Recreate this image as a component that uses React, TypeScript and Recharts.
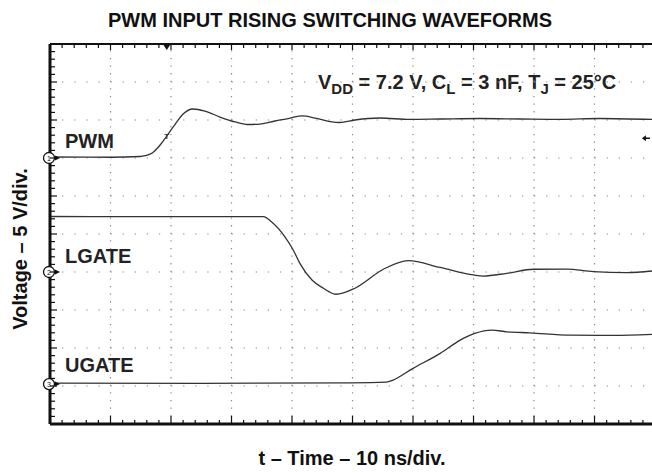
import { Line, LineChart, ReferenceDot, ReferenceLine, XAxis, YAxis } from "recharts";

// time in ns, voltage in V (relative to each channel's ground marker)
const pwmTime = [0, 10, 14.9, 15.7, 16.9, 18.2, 19.3, 20.7, 22.0, 23.6, 25.6, 28.1, 30.6, 32.6, 34.7, 37.2, 39.7, 41.7, 43.8, 46.3, 47.9, 50.4, 54.5, 59.5, 64.5, 71.1, 77.7, 84.3, 90.9, 99.5];
const pwmVolt = [0.13, 0.1, 0.2, 0.3, 0.66, 1.71, 2.89, 4.47, 5.79, 6.45, 6.18, 5.39, 4.74, 4.41, 4.47, 4.87, 5.26, 5.53, 5.26, 4.8, 4.67, 5.0, 5.26, 5.07, 5.13, 5.2, 5.13, 5.07, 5.2, 5.07];

const lgateTime = [0, 15, 33.1, 35.3, 36.6, 38.8, 40.2, 41.3, 43.3, 45.2, 47.3, 50.4, 55.1, 59.2, 64.5, 70.0, 71.6, 75.5, 79.9, 85.4, 89.8, 95.3, 99.5];
const lgateVolt = [7.3, 7.28, 7.28, 7.28, 6.6, 4.65, 2.9, 1.14, -1.05, -2.14, -2.93, -2.14, 0.36, 1.49, 0.6, -0.39, -0.53, -0.17, 0.36, 0.39, 0.04, -0.09, 0.13];

const ugateTime = [0, 25, 49.6, 55.6, 56.7, 60.0, 64.5, 67.8, 70.2, 73.0, 75.5, 79.3, 86.0, 93.1, 99.5];
const ugateVolt = [0.12, 0.1, 0.17, 0.26, 0.53, 2.07, 4.04, 5.79, 6.67, 7.11, 6.88, 6.75, 6.45, 6.41, 6.54];

// ground position of each channel, in divisions from the bottom
const channelGround = [7, 4, 1.05];
const channelNames = ["PWM", "LGATE", "UGATE"];
const VOLTS_PER_DIV = 5;
const TRIGGER_TIME = 19.3;
const TRIGGER_LEVEL = 2.6;

const X_MAX = 99.5;
const xMajor = [10, 20, 30, 40, 50, 60, 70, 80, 90];
const yMajor = [1, 2, 3, 4, 5, 6, 7, 8, 9];
const xMinor: number[] = [];
for (let i = 0; i <= 49; i++) xMinor.push(i * 2);
const yMinor: number[] = [];
for (let i = 0; i <= 50; i++) yMinor.push(Math.round(i * 2) / 10);

const toRows = (time: number[], volt: number[], ground: number) =>
  time.map((t, i) => ({ t, v: ground + volt[i] / VOLTS_PER_DIV }));

const pwmRows = toRows(pwmTime, pwmVolt, channelGround[0]);
const lgateRows = toRows(lgateTime, lgateVolt, channelGround[1]);
const ugateRows = toRows(ugateTime, ugateVolt, channelGround[2]);

const FONT = "'Liberation Sans', Arial, sans-serif";
const INK = "#111";
const DOTS = "#8a8a8a";

const isWhole = (v: number, step: number) => Math.abs(v / step - Math.round(v / step)) < 1e-6;

function BottomTick({ x, y, payload }: any) {
  const len = isWhole(payload.value, 10) ? 8 : 4;
  return <line x1={x} x2={x} y1={y} y2={y - len} stroke={INK} strokeWidth={1.2} />;
}

function TopTick({ x, y, payload }: any) {
  const len = isWhole(payload.value, 10) ? 6 : 4;
  return <line x1={x} x2={x} y1={y} y2={y + len} stroke={INK} strokeWidth={1.2} />;
}

function LeftTick({ x, y, payload }: any) {
  const len = isWhole(payload.value, 1) ? 7 : 5;
  return <line x1={x} x2={x + len} y1={y} y2={y} stroke={INK} strokeWidth={1.2} />;
}

// drawn as the dot's label so it sits on top of the axis line
function channelLabel(n: string) {
  return ({ viewBox }: any) => {
    const cx = viewBox.x + viewBox.width / 2;
    const cy = viewBox.y + viewBox.height / 2;
    return (
      <g>
        <circle cx={cx - 1} cy={cy} r={5.5} fill="#fff" stroke={INK} strokeWidth={1.3} />
        <text x={cx - 1} y={cy + 2.5} fontSize={7} textAnchor="middle" fontFamily={FONT} fill={INK}>
          {n}
        </text>
        <path d={`M${cx + 5} ${cy - 2.5} L${cx + 10} ${cy} L${cx + 5} ${cy + 2.5} Z`} fill={INK} />
      </g>
    );
  };
}

function TriggerMarker({ cx, cy }: any) {
  return <path d={`M${cx - 4} ${cy} L${cx + 4} ${cy} L${cx} ${cy + 6} Z`} fill={INK} />;
}

function LevelMarker({ cx, cy }: any) {
  return (
    <g>
      <path d={`M${cx - 4} ${cy} L${cx} ${cy - 3} L${cx} ${cy + 3} Z`} fill={INK} />
      <line x1={cx} x2={cx + 4} y1={cy} y2={cy} stroke={INK} strokeWidth={1.5} />
    </g>
  );
}

function TriggerPoint({ cx, cy }: any) {
  return (
    <text x={cx} y={cy + 3} fontSize={8} fontWeight="bold" textAnchor="middle" fontFamily={FONT} fill="#333">
      T
    </text>
  );
}

const NoShape = () => <g />;

export default function App() {
  const labelY = [148, 263, 372];
  return (
    <div style={{ position: "absolute", left: 0, top: 0, width: 652, height: 473, background: "#fff" }}>
      <LineChart width={652} height={473} margin={{ top: 43, right: 0, bottom: 48, left: 49 }}>
        <XAxis
          type="number"
          dataKey="t"
          domain={[0, X_MAX]}
          ticks={xMinor}
          interval={0}
          height={1}
          tickSize={0}
          tickMargin={0}
          tickLine={false}
          tick={BottomTick}
          axisLine={{ stroke: INK, strokeWidth: 3 }}
          allowDataOverflow
        />
        <XAxis
          xAxisId="top"
          orientation="top"
          type="number"
          dataKey="t"
          domain={[0, X_MAX]}
          ticks={xMinor}
          interval={0}
          height={1}
          tickSize={0}
          tickMargin={0}
          tickLine={false}
          tick={TopTick}
          axisLine={{ stroke: INK, strokeWidth: 2 }}
          allowDataOverflow
        />
        <YAxis
          type="number"
          domain={[0, 10]}
          ticks={yMinor}
          interval={0}
          width={1}
          tickSize={0}
          tickMargin={0}
          tickLine={false}
          tick={LeftTick}
          axisLine={{ stroke: INK, strokeWidth: 3 }}
        />
        {xMajor.map((v) => (
          <ReferenceLine key={`x${v}`} x={v} stroke={DOTS} strokeWidth={1.2} strokeDasharray="1.3 6.3" />
        ))}
        {yMajor.map((v) => (
          <ReferenceLine key={`y${v}`} y={v} stroke={DOTS} strokeWidth={1.2} strokeDasharray="1.3 10.8" />
        ))}
        <Line data={pwmRows} dataKey="v" type="monotone" dot={false} stroke="#333" strokeWidth={1.3} isAnimationActive={false} />
        <Line data={lgateRows} dataKey="v" type="monotone" dot={false} stroke="#333" strokeWidth={1.3} isAnimationActive={false} />
        <Line data={ugateRows} dataKey="v" type="monotone" dot={false} stroke="#333" strokeWidth={1.3} isAnimationActive={false} />
        {channelGround.map((g, i) => (
          <ReferenceDot
            key={i}
            x={0}
            y={g}
            r={5}
            ifOverflow="visible"
            shape={NoShape}
            label={{ content: channelLabel(String(i + 1)) }}
          />
        ))}
        <ReferenceDot x={TRIGGER_TIME} y={10} r={4} ifOverflow="visible" shape={TriggerMarker} />
        <ReferenceDot
          x={98.5}
          y={channelGround[0] + TRIGGER_LEVEL / VOLTS_PER_DIV}
          r={4}
          ifOverflow="visible"
          shape={LevelMarker}
        />
        <ReferenceDot
          x={TRIGGER_TIME}
          y={channelGround[0] + 2.89 / VOLTS_PER_DIV}
          r={3}
          ifOverflow="visible"
          shape={TriggerPoint}
        />
        {channelNames.map((name, i) => (
          <text key={name} x={65} y={labelY[i]} fontSize={20} fontWeight="bold" fontFamily={FONT} fill="#222">
            {name}
          </text>
        ))}
        <text x={318} y={89} fontSize={20} fontWeight="bold" fontFamily={FONT} fill="#222">
          V<tspan fontSize={15} dy={5}>DD</tspan>
          <tspan dy={-5}> = 7.2 V, C</tspan>
          <tspan fontSize={15} dy={5}>L</tspan>
          <tspan dy={-5}> = 3 nF, T</tspan>
          <tspan fontSize={15} dy={5}>J</tspan>
          <tspan dy={-5}> = 25°C</tspan>
        </text>
        <text x={330} y={27} fontSize={20} fontWeight="bold" fontFamily={FONT} fill="#111" textAnchor="middle">
          PWM INPUT RISING SWITCHING WAVEFORMS
        </text>
        <text x={352} y={465} fontSize={20} fontWeight="bold" fontFamily={FONT} fill="#111" textAnchor="middle">
          t – Time – 10 ns/div.
        </text>
        <text
          x={27}
          y={249}
          fontSize={20}
          fontWeight="bold"
          fontFamily={FONT}
          fill="#111"
          textAnchor="middle"
          transform="rotate(-90 27 249)"
        >
          Voltage – 5 V/div.
        </text>
      </LineChart>
    </div>
  );
}
